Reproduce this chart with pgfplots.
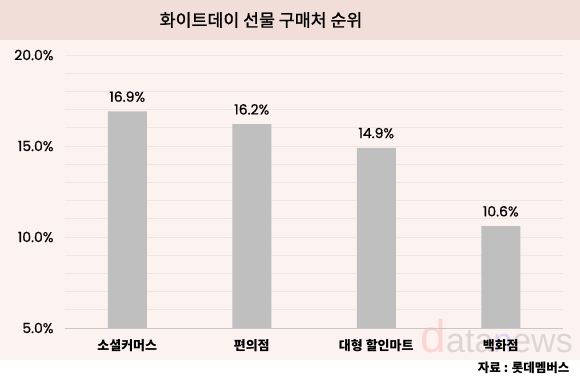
\documentclass[border=0pt]{standalone}
\usepackage{fontspec}
\usepackage{pgfplots}
\pgfplotsset{compat=1.18}
\setmainfont{Noto Sans CJK KR}
\newfontfamily\titlefont[FakeBold=1.2]{Noto Sans CJK KR}
\newfontfamily\pop[FakeBold=0.6]{Poppins}
\newfontfamily\wm{Liberation Sans}
\definecolor{titlebg}{HTML}{F2DED8}
\definecolor{panelbg}{HTML}{FCF3F1}
\definecolor{gridc}{HTML}{EFE6E4}
\definecolor{barc}{HTML}{BFBFBF}
\begin{document}
\begin{tikzpicture}[x=1pt,y=1pt]
\fill[white] (0,0) rectangle (580,390);
\fill[panelbg] (0,30) rectangle (580,350);
\fill[titlebg] (0,350) rectangle (580,390);
\node[font=\titlefont\fontsize{17.3}{19}\selectfont] at (261,370) {화이트데이 선물 구매처 순위};
\node[anchor=south east,inner sep=0pt,font=\wm\fontsize{34}{34}\selectfont,opacity=0.12] at (573,37) {\textcolor{red}{\fontsize{46}{46}\selectfont d}ata\textcolor{blue}{n}ews};
\begin{axis}[
  at={(65pt,62pt)}, anchor=south west,
  scale only axis, width=498pt, height=273pt,
  xmin=-0.5, xmax=3.5, ymin=5, ymax=20,
  xtick={0,1,2,3},
  xticklabels={소셜커머스,편의점,대형 할인마트,백화점},
  xticklabel style={font=\bfseries\fontsize{13}{14}\selectfont, yshift=-8pt},
  ytick={5,10,15,20},
  minor ytick={6,7,8,9,11,12,13,14,16,17,18,19},
  yticklabel={\pgfmathprintnumber[fixed,fixed zerofill,precision=1]{\tick}\%},
  yticklabel style={font=\pop\fontsize{14}{16}\selectfont, /pgf/number format/assume math mode=true, xshift=-8pt},
  ymajorgrids, yminorgrids,
  major grid style={gridc, line width=0.8pt},
  minor grid style={gridc, line width=0.8pt},
  major tick length=0pt, minor tick length=0pt,
  axis x line*=bottom, axis y line*=left,
  x axis line style={draw=black!22, line width=0.8pt, -},
  y axis line style={draw=none},
  axis background/.style={fill=none},
  nodes near coords={\pgfmathprintnumber[fixed,fixed zerofill,precision=1]{\pgfplotspointmeta}\%},
  nodes near coords style={font=\pop\fontsize{14}{16}\selectfont, /pgf/number format/assume math mode=true, yshift=6pt},
]
\addplot[ybar, bar width=39pt, fill=barc, draw=none] coordinates {(0,16.9) (1,16.2) (2,14.9) (3,10.6)};
\end{axis}
\node[anchor=east, font=\bfseries\fontsize{12.5}{14}\selectfont] at (573,22) {자료 : 롯데멤버스};
\end{tikzpicture}
\end{document}
